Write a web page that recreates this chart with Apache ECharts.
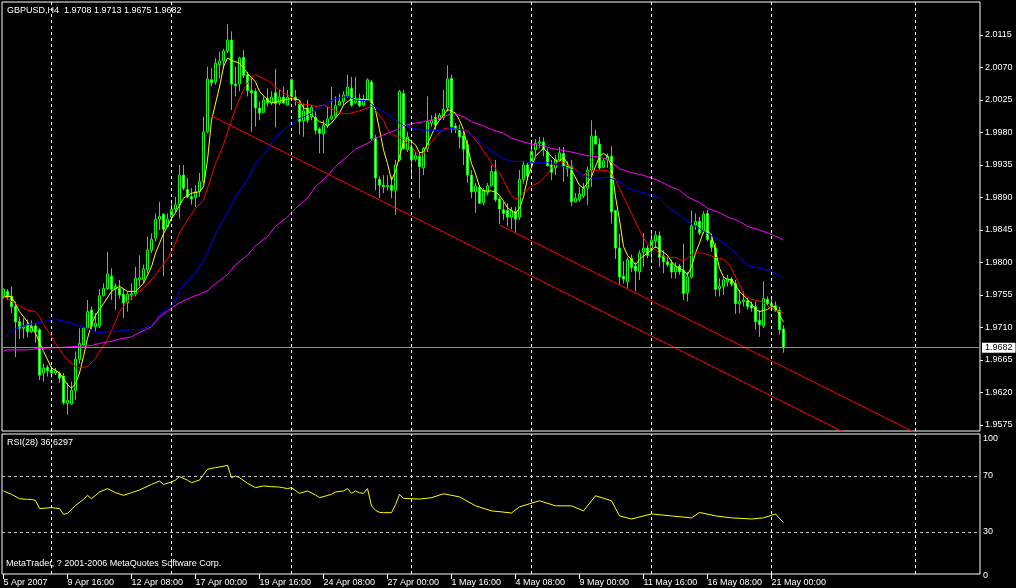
<!DOCTYPE html>
<html><head><meta charset="utf-8">
<script src="https://cdn.jsdelivr.net/npm/echarts@6/dist/echarts.min.js"></script>
<style>html,body{margin:0;padding:0;background:#000;}#c{width:1016px;height:588px;}</style>
</head><body><div id="c"></div>
<script>
const symbol = 'GBPUSD,H4';
const open = [1.9753,1.9760,1.9753,1.9739,1.9718,1.9709,1.9714,1.9704,1.9712,1.9707,1.9647,1.9655,1.9651,1.9647,1.9646,1.9643,1.9605,1.9604,1.9623,1.9666,1.9686,1.9709,1.9734,1.9711,1.9712,1.9754,1.9764,1.9781,1.9763,1.9764,1.9756,1.9744,1.9755,1.9756,1.9776,1.9777,1.9790,1.9817,1.9834,1.9860,1.9867,1.9850,1.9863,1.9874,1.9880,1.9921,1.9901,1.9891,1.9890,1.9898,1.9912,1.9981,2.0053,2.0050,2.0074,2.0079,2.0093,2.0108,2.0047,2.0047,2.0084,2.0060,2.0038,2.0037,2.0014,2.0008,2.0027,2.0021,2.0035,2.0021,2.0029,2.0018,2.0053,2.0029,2.0019,1.9996,2.0014,2.0002,2.0001,1.9985,1.9978,1.9989,1.9999,2.0003,2.0018,2.0023,2.0030,2.0041,2.0021,2.0027,2.0018,2.0026,2.0050,1.9972,1.9915,1.9907,1.9905,1.9907,1.9900,1.9942,2.0034,1.9956,1.9960,1.9943,1.9947,1.9931,1.9958,1.9993,2.0001,1.9998,2.0001,2.0014,2.0055,1.9989,1.9985,1.9975,1.9963,1.9921,1.9898,1.9904,1.9883,1.9897,1.9906,1.9926,1.9888,1.9873,1.9872,1.9863,1.9871,1.9863,1.9915,1.9935,1.9938,1.9956,1.9965,1.9967,1.9953,1.9935,1.9931,1.9942,1.9951,1.9934,1.9933,1.9884,1.9887,1.9892,1.9903,1.9928,1.9975,1.9964,1.9932,1.9942,1.9947,1.9872,1.9820,1.9781,1.9773,1.9806,1.9795,1.9787,1.9814,1.9820,1.9817,1.9830,1.9837,1.9809,1.9801,1.9799,1.9787,1.9795,1.9789,1.9758,1.9780,1.9852,1.9857,1.9844,1.9868,1.9831,1.9820,1.9764,1.9767,1.9773,1.9777,1.9771,1.9743,1.9746,1.9747,1.9741,1.9739,1.9720,1.9712,1.9749,1.9743,1.9740,1.9734,1.9708];
const high = [1.9764,1.9763,1.9767,1.9746,1.9725,1.9723,1.9721,1.9720,1.9716,1.9709,1.9660,1.9658,1.9656,1.9654,1.9649,1.9647,1.9633,1.9635,1.9677,1.9709,1.9711,1.9748,1.9739,1.9730,1.9763,1.9771,1.9815,1.9792,1.9771,1.9776,1.9764,1.9760,1.9771,1.9794,1.9810,1.9797,1.9836,1.9840,1.9868,1.9884,1.9868,1.9868,1.9882,1.9891,1.9935,1.9935,1.9917,1.9903,1.9907,1.9924,2.0002,2.0071,2.0069,2.0083,2.0092,2.0096,2.0130,2.0120,2.0071,2.0085,2.0094,2.0064,2.0057,2.0041,2.0023,2.0030,2.0041,2.0037,2.0068,2.0039,2.0044,2.0039,2.0055,2.0039,2.0023,2.0020,2.0025,2.0018,2.0009,1.9987,1.9997,2.0016,2.0043,2.0030,2.0034,2.0037,2.0060,2.0057,2.0057,2.0034,2.0032,2.0055,2.0053,1.9977,1.9919,1.9921,1.9921,1.9919,1.9942,2.0039,2.0039,1.9981,1.9970,1.9953,1.9953,1.9960,2.0030,2.0004,2.0007,2.0007,2.0039,2.0073,2.0060,1.9993,1.9991,1.9984,1.9970,1.9928,1.9910,1.9907,1.9903,1.9910,1.9935,1.9942,1.9891,1.9884,1.9882,1.9877,1.9877,1.9928,1.9940,1.9938,1.9967,1.9971,1.9974,1.9973,1.9958,1.9942,1.9949,1.9960,1.9960,1.9940,1.9942,1.9896,1.9905,1.9910,1.9933,1.9997,1.9984,1.9972,1.9944,1.9951,1.9961,1.9873,1.9840,1.9802,1.9807,1.9811,1.9800,1.9817,1.9841,1.9824,1.9844,1.9844,1.9843,1.9817,1.9808,1.9804,1.9800,1.9798,1.9826,1.9787,1.9872,1.9868,1.9863,1.9871,1.9873,1.9840,1.9827,1.9778,1.9780,1.9783,1.9780,1.9776,1.9762,1.9760,1.9751,1.9746,1.9746,1.9734,1.9774,1.9753,1.9750,1.9746,1.9739,1.9713];
const low = [1.9750,1.9748,1.9730,1.9669,1.9694,1.9695,1.9697,1.9702,1.9689,1.9637,1.9635,1.9642,1.9640,1.9644,1.9633,1.9603,1.9589,1.9603,1.9610,1.9660,1.9684,1.9707,1.9707,1.9704,1.9709,1.9753,1.9762,1.9748,1.9734,1.9750,1.9723,1.9732,1.9748,1.9753,1.9767,1.9771,1.9785,1.9813,1.9829,1.9845,1.9781,1.9849,1.9860,1.9869,1.9861,1.9900,1.9889,1.9880,1.9877,1.9891,1.9910,1.9979,2.0044,2.0046,2.0055,2.0069,2.0090,2.0011,2.0030,2.0037,2.0055,2.0030,1.9981,1.9988,1.9997,2.0007,2.0016,2.0018,1.9987,2.0018,2.0020,2.0017,2.0024,2.0017,1.9977,1.9974,1.9993,1.9997,1.9977,1.9951,1.9951,1.9986,1.9997,2.0000,2.0017,2.0018,2.0028,2.0016,2.0020,2.0015,2.0016,2.0025,1.9970,1.9900,1.9889,1.9896,1.9900,1.9889,1.9866,1.9940,1.9956,1.9953,1.9919,1.9940,1.9889,1.9921,1.9953,1.9988,1.9984,1.9997,1.9997,2.0009,1.9979,1.9979,1.9958,1.9935,1.9910,1.9889,1.9869,1.9882,1.9879,1.9893,1.9905,1.9884,1.9853,1.9859,1.9850,1.9846,1.9841,1.9859,1.9909,1.9914,1.9933,1.9947,1.9958,1.9947,1.9933,1.9914,1.9921,1.9940,1.9912,1.9919,1.9878,1.9883,1.9884,1.9889,1.9880,1.9905,1.9963,1.9928,1.9931,1.9931,1.9854,1.9805,1.9769,1.9771,1.9764,1.9787,1.9760,1.9776,1.9794,1.9806,1.9801,1.9820,1.9794,1.9785,1.9794,1.9778,1.9778,1.9783,1.9748,1.9746,1.9778,1.9845,1.9838,1.9840,1.9829,1.9815,1.9753,1.9753,1.9755,1.9767,1.9767,1.9729,1.9730,1.9739,1.9735,1.9732,1.9707,1.9697,1.9709,1.9741,1.9734,1.9732,1.9700,1.9675];
const close = [1.9763,1.9752,1.9739,1.9718,1.9709,1.9711,1.9704,1.9712,1.9704,1.9644,1.9654,1.9650,1.9647,1.9650,1.9640,1.9606,1.9609,1.9623,1.9666,1.9688,1.9709,1.9732,1.9712,1.9716,1.9754,1.9764,1.9784,1.9763,1.9767,1.9755,1.9744,1.9756,1.9757,1.9778,1.9779,1.9791,1.9817,1.9832,1.9860,1.9864,1.9846,1.9860,1.9874,1.9880,1.9921,1.9903,1.9891,1.9888,1.9898,1.9912,1.9981,2.0054,2.0049,2.0076,2.0079,2.0093,2.0108,2.0047,2.0045,2.0083,2.0059,2.0038,2.0035,2.0014,2.0007,2.0025,2.0021,2.0029,2.0020,2.0029,2.0021,2.0029,2.0029,2.0025,1.9995,2.0010,1.9997,2.0015,1.9983,1.9979,1.9990,1.9999,2.0003,2.0017,2.0023,2.0032,2.0043,2.0018,2.0027,2.0017,2.0026,2.0053,1.9972,1.9917,1.9907,1.9905,1.9907,1.9900,1.9935,2.0037,1.9958,1.9974,1.9942,1.9948,1.9933,1.9958,1.9995,1.9997,1.9990,2.0004,2.0012,2.0054,1.9988,1.9984,1.9974,1.9957,1.9921,1.9898,1.9906,1.9882,1.9900,1.9906,1.9926,1.9887,1.9874,1.9868,1.9863,1.9872,1.9860,1.9915,1.9935,1.9920,1.9954,1.9965,1.9967,1.9956,1.9934,1.9925,1.9943,1.9952,1.9933,1.9930,1.9884,1.9889,1.9895,1.9903,1.9928,1.9975,1.9964,1.9931,1.9941,1.9947,1.9870,1.9820,1.9780,1.9777,1.9804,1.9793,1.9789,1.9813,1.9820,1.9810,1.9831,1.9838,1.9807,1.9801,1.9797,1.9787,1.9794,1.9787,1.9757,1.9780,1.9851,1.9857,1.9841,1.9867,1.9832,1.9821,1.9763,1.9767,1.9776,1.9778,1.9770,1.9743,1.9746,1.9748,1.9739,1.9737,1.9718,1.9714,1.9750,1.9743,1.9740,1.9733,1.9707,1.9682];

const tickBars = [0,16,32,48,64,80,96,112,128,144,160,176,192];
const tickLabels = ['5 Apr 2007','9 Apr 16:00','12 Apr 08:00','17 Apr 00:00','19 Apr 16:00','24 Apr 08:00','27 Apr 00:00','1 May 16:00','4 May 08:00','9 May 00:00','11 May 16:00','16 May 08:00','21 May 00:00'];
const weekStarts = [12,42,72,102,132,162,192,228];
const priceTicks = [1.9575,1.9620,1.9665,1.9710,1.9755,1.9800,1.9845,1.9890,1.9935,1.9980,2.0025,2.0070,2.0115];
const rsiTicks = [0,30,70,100];
const rsiLevels = [70,30];

const maFast = [[0,1.9753],[2,1.9753],[4,1.9732],[6,1.9718],[8,1.9702],[10,1.9677],[12,1.9654],[14,1.9647],[16,1.9631],[17,1.9626],[18,1.9632],[19,1.9647],[20,1.9670],[21,1.9695],[22,1.9714],[23,1.9727],[25,1.9743],[27,1.9760],[29,1.9767],[31,1.9760],[33,1.9760],[35,1.9771],[37,1.9794],[38,1.9813],[40,1.9840],[42,1.9861],[43,1.9869],[45,1.9889],[47,1.9896],[49,1.9898],[50,1.9905],[51,1.9942],[52,1.9997],[54,2.0043],[55,2.0071],[56,2.0083],[57,2.0080],[59,2.0076],[60,2.0069],[61,2.0062],[63,2.0050],[64,2.0037],[66,2.0025],[67,2.0021],[69,2.0023],[70,2.0025],[72,2.0027],[74,2.0025],[75,2.0014],[76,2.0012],[77,2.0004],[79,1.9995],[80,1.9993],[81,1.9989],[82,1.9993],[84,2.0007],[85,2.0018],[87,2.0027],[89,2.0025],[90,2.0026],[92,2.0025],[93,2.0011],[94,1.9984],[95,1.9956],[96,1.9937],[97,1.9914],[98,1.9926],[99,1.9947],[100,1.9967],[101,1.9972],[103,1.9963],[104,1.9952],[105,1.9953],[106,1.9964],[108,1.9989],[109,1.9997],[110,2.0004],[111,2.0012],[113,2.0007],[114,1.9997],[115,1.9984],[117,1.9937],[118,1.9923],[119,1.9905],[120,1.9899],[122,1.9899],[123,1.9898],[124,1.9893],[125,1.9885],[126,1.9876],[128,1.9868],[129,1.9875],[130,1.9891],[131,1.9917],[133,1.9947],[134,1.9953],[135,1.9958],[137,1.9947],[138,1.9941],[139,1.9940],[140,1.9946],[142,1.9928],[144,1.9907],[145,1.9903],[146,1.9910],[147,1.9919],[148,1.9933],[149,1.9947],[150,1.9951],[151,1.9947],[152,1.9933],[153,1.9891],[154,1.9859],[155,1.9822],[156,1.9810],[157,1.9804],[158,1.9797],[159,1.9804],[160,1.9809],[161,1.9813],[162,1.9817],[163,1.9822],[164,1.9818],[166,1.9810],[167,1.9801],[168,1.9795],[170,1.9789],[171,1.9783],[172,1.9794],[173,1.9813],[174,1.9827],[175,1.9843],[176,1.9844],[177,1.9838],[178,1.9817],[179,1.9792],[180,1.9780],[181,1.9776],[182,1.9777],[183,1.9769],[184,1.9760],[186,1.9749],[187,1.9743],[188,1.9735],[189,1.9732],[191,1.9735],[192,1.9739],[193,1.9738],[194,1.9727],[195,1.9718]];
const maMid = [[0,1.9753],[3,1.9743],[4,1.9740],[6,1.9734],[8,1.9732],[9,1.9725],[10,1.9714],[12,1.9698],[13,1.9688],[15,1.9672],[16,1.9665],[18,1.9656],[19,1.9654],[21,1.9656],[23,1.9667],[24,1.9677],[26,1.9694],[28,1.9718],[29,1.9732],[31,1.9746],[33,1.9756],[34,1.9760],[36,1.9770],[38,1.9783],[39,1.9791],[41,1.9805],[43,1.9827],[44,1.9841],[46,1.9859],[48,1.9875],[50,1.9886],[51,1.9903],[52,1.9919],[53,1.9937],[55,1.9963],[56,1.9981],[57,1.9997],[58,2.0013],[60,2.0039],[62,2.0057],[63,2.0060],[65,2.0055],[66,2.0052],[67,2.0048],[68,2.0043],[70,2.0035],[71,2.0032],[72,2.0029],[73,2.0023],[75,2.0019],[77,2.0018],[78,2.0016],[80,2.0018],[82,2.0013],[83,2.0010],[85,2.0006],[86,2.0006],[87,2.0007],[89,2.0010],[91,2.0014],[92,2.0016],[93,2.0011],[95,1.9997],[96,1.9984],[97,1.9977],[98,1.9976],[99,1.9973],[100,1.9970],[101,1.9965],[102,1.9961],[103,1.9953],[104,1.9947],[105,1.9951],[106,1.9958],[107,1.9967],[108,1.9974],[110,1.9985],[111,1.9986],[113,1.9984],[116,1.9983],[117,1.9977],[119,1.9963],[120,1.9954],[121,1.9947],[122,1.9937],[124,1.9924],[125,1.9914],[126,1.9903],[127,1.9893],[128,1.9888],[129,1.9890],[130,1.9897],[131,1.9901],[132,1.9906],[134,1.9911],[135,1.9917],[136,1.9923],[137,1.9931],[138,1.9937],[139,1.9940],[140,1.9938],[141,1.9935],[143,1.9929],[144,1.9924],[145,1.9921],[146,1.9925],[147,1.9927],[149,1.9928],[151,1.9927],[152,1.9923],[153,1.9914],[154,1.9903],[155,1.9891],[156,1.9880],[157,1.9868],[158,1.9856],[159,1.9845],[160,1.9834],[161,1.9826],[162,1.9820],[163,1.9817],[164,1.9813],[165,1.9808],[166,1.9807],[168,1.9807],[169,1.9804],[170,1.9803],[171,1.9806],[172,1.9811],[173,1.9813],[175,1.9813],[176,1.9811],[177,1.9809],[178,1.9807],[179,1.9806],[180,1.9804],[181,1.9800],[182,1.9792],[183,1.9780],[184,1.9769],[185,1.9758],[186,1.9752],[187,1.9749],[188,1.9748],[190,1.9745],[191,1.9740],[193,1.9734],[195,1.9730]];
const maSlow = [[0,1.9695],[2,1.9705],[4,1.9711],[7,1.9715],[9,1.9717],[12,1.9720],[13,1.9722],[14,1.9720],[17,1.9716],[19,1.9712],[22,1.9707],[23,1.9704],[24,1.9703],[27,1.9705],[29,1.9705],[32,1.9707],[34,1.9707],[36,1.9711],[38,1.9718],[39,1.9727],[41,1.9737],[43,1.9746],[44,1.9762],[46,1.9774],[48,1.9785],[51,1.9813],[53,1.9840],[56,1.9868],[58,1.9891],[61,1.9915],[63,1.9937],[66,1.9956],[68,1.9974],[71,1.9988],[73,1.9997],[76,2.0004],[78,2.0011],[81,2.0021],[83,2.0027],[86,2.0030],[88,2.0025],[91,2.0024],[93,2.0015],[96,2.0006],[98,1.9997],[100,1.9990],[102,1.9986],[105,1.9983],[107,1.9983],[110,1.9983],[112,1.9986],[115,1.9983],[117,1.9977],[120,1.9963],[122,1.9954],[125,1.9944],[127,1.9940],[130,1.9940],[132,1.9938],[135,1.9938],[137,1.9938],[140,1.9933],[142,1.9929],[145,1.9921],[147,1.9917],[149,1.9917],[151,1.9918],[154,1.9912],[156,1.9903],[159,1.9898],[161,1.9895],[164,1.9889],[166,1.9877],[169,1.9866],[171,1.9857],[174,1.9847],[176,1.9840],[179,1.9831],[181,1.9822],[184,1.9808],[186,1.9796],[189,1.9792],[191,1.9789],[194,1.9783],[195,1.9778]];
const maLong = [[0,1.9677],[1,1.9679],[3,1.9679],[6,1.9679],[9,1.9681],[13,1.9682],[16,1.9683],[19,1.9684],[22,1.9685],[24,1.9688],[27,1.9691],[29,1.9694],[32,1.9697],[34,1.9703],[37,1.9711],[39,1.9725],[42,1.9737],[44,1.9744],[47,1.9752],[49,1.9756],[51,1.9761],[53,1.9771],[56,1.9783],[58,1.9797],[61,1.9810],[63,1.9823],[66,1.9836],[68,1.9850],[71,1.9863],[73,1.9875],[76,1.9889],[78,1.9905],[81,1.9920],[83,1.9933],[86,1.9947],[88,1.9957],[91,1.9965],[93,1.9972],[96,1.9979],[98,1.9983],[100,1.9989],[102,1.9992],[105,1.9995],[107,1.9997],[110,2.0001],[112,2.0007],[115,2.0002],[117,1.9995],[120,1.9989],[122,1.9984],[125,1.9979],[127,1.9972],[130,1.9967],[132,1.9964],[135,1.9961],[137,1.9958],[140,1.9955],[142,1.9953],[145,1.9949],[147,1.9947],[149,1.9946],[151,1.9943],[154,1.9930],[156,1.9926],[159,1.9922],[161,1.9919],[164,1.9913],[166,1.9907],[169,1.9900],[171,1.9891],[174,1.9883],[176,1.9875],[179,1.9869],[181,1.9863],[184,1.9857],[186,1.9850],[189,1.9845],[191,1.9841],[194,1.9834],[195,1.9831]];
const trendA = [[52,2.0003],[244,1.9471]];
const trendB = [[124,1.9852],[244,1.9520]];
const rsi = [[0,59.3],[2,56.9],[4,53.8],[6,53.3],[7,53.3],[8,52.5],[9,46.7],[12,47.4],[14,46.7],[15,42.6],[16,43.3],[18,49.0],[20,53.3],[21,56.2],[22,53.8],[24,58.6],[26,61.0],[28,58.1],[30,56.2],[32,58.1],[34,60.0],[37,64.0],[39,66.4],[40,64.0],[42,65.7],[43,67.1],[44,69.5],[46,67.0],[47,65.2],[49,67.1],[51,74.8],[53,76.0],[54,76.4],[56,77.6],[57,68.8],[58,70.0],[59,68.8],[61,64.8],[63,61.7],[65,62.9],[67,62.4],[69,62.1],[71,61.0],[72,61.7],[74,57.6],[76,59.3],[78,56.5],[79,54.5],[82,56.9],[83,58.6],[85,59.3],[86,61.0],[87,57.6],[88,59.3],[89,58.0],[90,57.6],[91,61.0],[92,48.6],[93,45.5],[94,44.0],[95,43.8],[97,43.8],[98,49.5],[99,56.9],[100,54.0],[104,53.5],[107,54.5],[110,57.3],[114,55.1],[118,48.7],[122,45.1],[127,43.6],[129,48.0],[134,52.3],[138,48.7],[142,48.7],[145,45.1],[148,55.9],[152,52.3],[154,41.5],[157,39.3],[162,42.9],[167,41.5],[172,40.1],[174,44.0],[178,41.5],[182,40.1],[187,39.3],[190,40.1],[193,42.9],[195,36.6]];
const rsiLast = 36.6297;
const bid = 1.9682;

// x axis: one bar per unit, window from just left of the first bar to the empty future area
const X_MIN = -0.375, X_MAX = 244.125;
const labelOf = {};
tickBars.forEach((b, k) => { labelOf[b] = tickLabels[k]; });
const candles = open.map((o, i) => [i, o, close[i], low[i], high[i]]);
const last = open.length - 1;
const FONT = 'Liberation Sans, Arial, sans-serif';
const txt = {color: '#ffffff', fontFamily: FONT, fontSize: 9};
const vLines = weekStarts.map(i => ({xAxis: i}));
const dashW = {color: '#ffffff', type: [3, 3], width: 1};

const chart = echarts.init(document.getElementById('c'), null, {renderer: 'canvas'});
chart.setOption({
  backgroundColor: '#000000',
  animation: false,
  grid: [
    {left: 2, top: 2, width: 978, height: 429, show: true, borderColor: '#ffffff', borderWidth: 1, backgroundColor: 'transparent'},
    {left: 2, top: 434, width: 978, height: 140, show: true, borderColor: '#ffffff', borderWidth: 1, backgroundColor: 'transparent'}
  ],
  xAxis: [
    {type: 'value', gridIndex: 0, min: X_MIN, max: X_MAX, axisLine: {show: false, onZero: false}, axisTick: {show: false}, axisLabel: {show: false}, splitLine: {show: false}},
    {type: 'value', gridIndex: 1, min: X_MIN, max: X_MAX, position: 'bottom', axisLine: {show: false, onZero: false},
     axisTick: {show: true, customValues: tickBars, length: 5, lineStyle: {color: '#ffffff'}},
     axisLabel: Object.assign({show: true, customValues: tickBars, formatter: (v) => labelOf[Math.round(v)] || '', align: 'left', margin: 4, showMinLabel: true, showMaxLabel: true}, txt),
     splitLine: {show: false}}
  ],
  yAxis: [
    {type: 'value', gridIndex: 0, position: 'right', min: 1.95667, max: 2.01607,
     axisLine: {show: false, onZero: false},
     axisTick: {show: true, customValues: priceTicks, length: 3, lineStyle: {color: '#ffffff'}},
     axisLabel: Object.assign({customValues: priceTicks, formatter: (v) => Number(v).toFixed(4), margin: 5}, txt),
     splitLine: {show: false}},
    {type: 'value', gridIndex: 1, position: 'right', min: 0, max: 100,
     axisLine: {show: false, onZero: false}, axisTick: {show: false},
     axisLabel: Object.assign({customValues: rsiTicks, margin: 3,
       formatter: (v) => v === 100 ? '{a|100}' : (v === 0 ? '{b|0}' : String(v)),
       rich: {a: {padding: [10, 0, 0, 0], color: '#fff', fontSize: 9, fontFamily: FONT}, b: {padding: [4, 0, 0, 0], color: '#fff', fontSize: 9, fontFamily: FONT}}}, txt),
     splitLine: {show: false}}
  ],
  graphic: [
    {type: 'text', left: 7, top: 6, silent: true, style: {text: symbol + '  ' + [open[last], high[last], low[last], close[last]].map(v => v.toFixed(4)).join(' '), fill: '#ffffff', font: '9px ' + FONT}},
    {type: 'text', left: 7, top: 438, silent: true, style: {text: 'RSI(28) ' + rsiLast.toFixed(4), fill: '#ffffff', font: '9px ' + FONT}},
    {type: 'text', left: 6, top: 559, silent: true, style: {text: 'MetaTrader, ? 2001-2006 MetaQuotes Software Corp.', fill: '#ffffff', font: '9px ' + FONT}}
  ],
  series: [
    {type: 'candlestick', name: symbol, xAxisIndex: 0, yAxisIndex: 0, data: candles, barWidth: 2, z: 2,
     encode: {x: 0, y: [1, 2, 3, 4]},
     itemStyle: {color: '#000000', color0: '#ffffff', borderColor: '#00ff00', borderColor0: '#00ff00', borderWidth: 1},
     markLine: {silent: true, symbol: ['none', 'none'], animation: false, precision: 4, label: {show: false},
       data: vLines.map(d => Object.assign({}, d, {lineStyle: dashW}))}},
    {type: 'line', name: 'MA fast', xAxisIndex: 0, yAxisIndex: 0, data: maFast, symbol: 'none', z: 3, lineStyle: {color: '#ffff00', width: 1},
     markLine: {silent: true, symbol: ['none', 'none'], animation: false, precision: 4,
       data: [{yAxis: bid, lineStyle: {color: '#909090', type: 'solid', width: 1},
         label: {show: true, position: 'end', distance: 2, formatter: bid.toFixed(4), color: '#000000', backgroundColor: '#ffffff', padding: [1, 3, 0, 3], fontSize: 9, fontFamily: FONT}}]}},
    {type: 'line', name: 'MA mid', xAxisIndex: 0, yAxisIndex: 0, data: maMid, symbol: 'none', z: 3, lineStyle: {color: '#ff0000', width: 1}},
    {type: 'line', name: 'MA slow', xAxisIndex: 0, yAxisIndex: 0, data: maSlow, symbol: 'none', z: 3, lineStyle: {color: '#0000ff', width: 1}},
    {type: 'line', name: 'MA long', xAxisIndex: 0, yAxisIndex: 0, data: maLong, symbol: 'none', z: 3, lineStyle: {color: '#ff00ff', width: 1}},
    {type: 'line', name: 'Trend A', xAxisIndex: 0, yAxisIndex: 0, data: trendA, symbol: 'none', z: 3, clip: true, lineStyle: {color: '#ff0000', width: 1}},
    {type: 'line', name: 'Trend B', xAxisIndex: 0, yAxisIndex: 0, data: trendB, symbol: 'none', z: 3, clip: true, lineStyle: {color: '#ff0000', width: 1}},
    {type: 'line', name: 'RSI(28)', xAxisIndex: 1, yAxisIndex: 1, data: rsi, symbol: 'none', z: 3, lineStyle: {color: '#ffff00', width: 1},
     markLine: {silent: true, symbol: ['none', 'none'], animation: false, precision: 4, label: {show: false},
       data: [
         ...vLines.map(d => Object.assign({}, d, {lineStyle: dashW})),
         ...rsiLevels.map(v => ({yAxis: v, lineStyle: {color: '#c0c0c0', type: [3, 3], width: 1}}))
       ]}}
  ]
});
</script>
</body></html>
